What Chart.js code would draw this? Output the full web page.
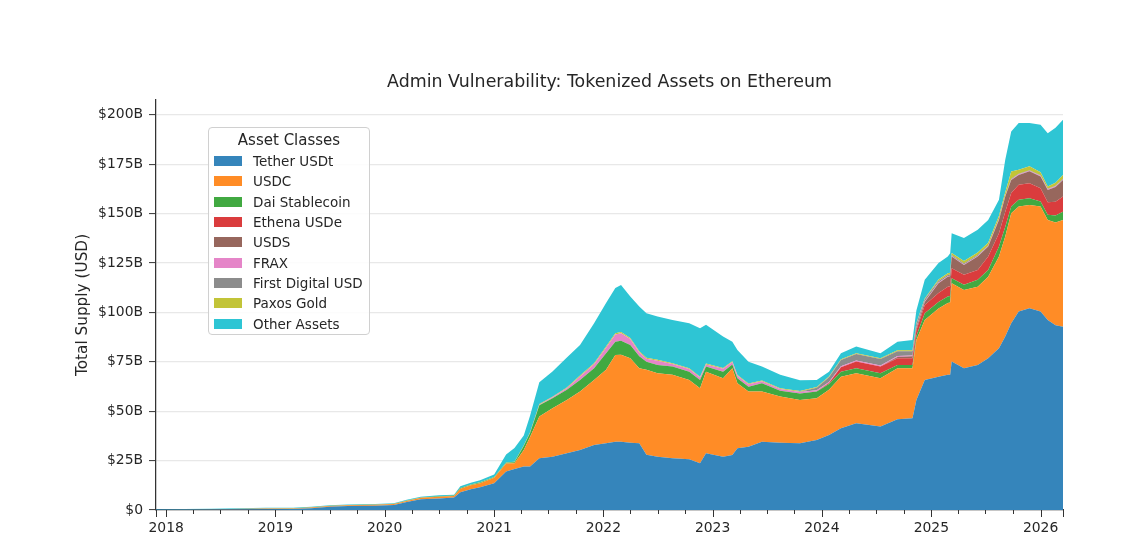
<!DOCTYPE html>
<html>
<head>
<meta charset="utf-8">
<title>Admin Vulnerability: Tokenized Assets on Ethereum</title>
<script src="https://cdn.jsdelivr.net/npm/chart.js@4.4.1/dist/chart.umd.min.js"></script>
<style>
  body { margin: 0; background: #fff; }
  #container { position: relative; width: 1132px; height: 555px; font-family: "DejaVu Sans", sans-serif; color: #262626; }
  #title { position: absolute; left: 156px; width: 907px; top: 71px; height: 20px; line-height: 20px; font-size: 17.4px; text-align: center; white-space: nowrap; }
  #legend { position: absolute; left: 208px; top: 127px; width: 162px; height: 208px; box-sizing: border-box;
    border: 1px solid #d0d0d0; border-radius: 4px; background: rgba(255,255,255,0.85); padding: 2px 0 0 5px; }
  #legend .title { height: 21px; line-height: 21px; font-size: 15px; text-align: center; margin-left: -5px; }
  #legend .row { display: flex; align-items: center; height: 20.3px; font-size: 13.5px; white-space: nowrap; }
  #legend .swatch { width: 28px; height: 10px; margin-right: 11px; flex: none; }
</style>
</head>
<body>
<div id="container">
  <canvas id="chart" width="1132" height="555"></canvas>
  <div id="title">Admin Vulnerability: Tokenized Assets on Ethereum</div>
  <div id="legend"></div>
</div>
<script>
// dates of the samples
const dates = [
  "2017-11-28","2018-06-01","2018-12-01","2019-03-01","2019-05-01","2019-07-01","2019-09-01","2019-12-01","2020-02-01","2020-03-15",
  "2020-05-01","2020-07-01","2020-08-20","2020-09-10","2020-10-15","2020-11-15","2021-01-01","2021-02-10","2021-03-10","2021-04-10",
  "2021-05-01","2021-06-01","2021-07-15","2021-09-01","2021-10-15","2021-12-01","2022-01-10","2022-02-10","2022-03-01","2022-04-01",
  "2022-05-01","2022-05-25","2022-07-01","2022-08-20","2022-10-15","2022-11-20","2022-12-10","2023-02-05","2023-03-08","2023-03-25",
  "2023-05-01","2023-06-15","2023-08-15","2023-10-20","2023-12-15","2024-01-25","2024-03-05","2024-04-25","2024-07-15","2024-09-10",
  "2024-10-30","2024-11-12","2024-12-10","2025-01-25","2025-02-25","2025-03-05","2025-03-10","2025-04-20","2025-06-05","2025-07-10",
  "2025-08-15","2025-09-05","2025-09-25","2025-10-20","2025-11-25","2026-01-01","2026-01-25","2026-02-20","2026-03-17"
];

// supply per asset, billions of USD
const tether = [
  0.2,0.3,0.4,0.5,0.9,1.7,2.0,2.2,2.5,4.0,
  5.5,5.8,6.3,9.0,10.5,11.5,13.5,19.5,20.7,22.0,
  22.0,26.2,27.0,28.7,30.4,32.9,33.8,34.6,34.6,34.0,
  33.8,28.0,27.0,26.2,25.7,23.6,28.7,27.0,27.8,31.2,
  32.0,34.6,34.0,33.8,35.4,38.0,41.4,43.9,42.2,45.9,
  46.4,55.7,65.8,67.5,68.4,68.5,75.1,71.7,73.4,76.8,
  81.9,87.8,94.5,100.4,102.1,100.4,96.2,93.5,92.8
];
const usdc = [
  0,0.05,0.3,0.3,0.35,0.35,0.4,0.45,0.5,0.6,
  0.7,0.9,0.8,1.8,2.0,2.1,2.8,4.0,3.0,8.4,
  15.0,21.1,24.5,27.0,29.6,32.9,37.2,43.9,44.0,42.8,
  38.0,43.0,42.2,42.2,40.1,38.0,41.3,39.7,43.9,32.9,
  28.0,25.4,23.4,21.9,21.1,22.8,26.1,25.3,24.5,25.8,
  25.3,30.3,30.4,34.5,36.3,36.5,39.7,39.7,39.6,41.2,
  46.4,50.6,55.7,53.2,52.3,53.2,50.6,52.0,54.0
];
const dai = [
  0.02,0.05,0.08,0.08,0.1,0.1,0.1,0.1,0.1,0.1,
  0.1,0.2,0.2,0.3,0.3,0.3,0.3,0.4,0.5,2.0,
  2.0,5.7,5.0,5.1,5.8,5.9,8.3,6.7,7.0,6.7,
  6.0,4.0,4.2,4.2,4.2,4.2,2.6,3.3,2.0,2.6,
  2.4,4.2,3.0,3.3,3.5,3.0,2.5,2.5,2.5,1.7,
  1.7,2.0,3.4,3.3,3.3,3.3,2.5,2.6,3.5,3.5,
  5.0,5.0,3.4,3.4,3.4,2.5,2.6,3.5,4.2
];
const usde = [
  0,0,0,0,0,0,0,0,0,0,
  0,0,0,0,0,0,0,0,0,0,
  0,0,0,0,0,0,0,0,0,0,
  0,0,0,0,0,0,0,0,0,0,
  0,0,0,0,0,0.5,2.2,3.4,3.4,3.4,
  3.4,3.0,4.2,4.5,5.0,5.0,5.1,5.0,5.0,6.8,
  6.8,7.6,6.8,7.6,7.6,6.8,6.3,7.0,7.6
];
const usds = [
  0,0,0,0,0,0,0,0,0,0,
  0,0,0,0,0,0,0,0,0,0,
  0,0,0,0,0,0,0,0,0,0,
  0,0,0,0,0,0,0,0,0,0,
  0,0,0,0,0,0,0,0,0,0.6,
  1.0,1.0,1.5,5.0,5.0,5.0,5.9,5.0,6.8,5.0,
  6.7,7.6,6.6,5.0,6.0,5.9,6.3,7.5,8.4
];
const frax = [
  0,0,0,0,0,0,0,0,0,0,
  0,0,0,0,0,0,0,0,0,0,
  0.1,0.3,0.5,0.8,1.8,2.1,2.8,3.6,3.8,3.0,
  2.0,1.5,2.1,1.3,1.3,1.2,1.1,1.5,1.2,1.2,
  1.2,1.0,0.8,0.7,0.6,0.5,0.5,0.5,0.5,0.5,
  0.4,0.3,0.3,0.3,0.3,0.3,0.3,0.3,0.3,0.3,
  0.3,0.3,0.3,0.3,0.3,0.3,0.3,0.3,0.3
];
const fdusd = [
  0,0,0,0,0,0,0,0,0,0,
  0,0,0,0,0,0,0,0,0,0,
  0,0,0,0,0,0,0,0,0,0,
  0,0,0,0,0,0,0,0,0,0,
  0,0,0,0.1,1.3,2.4,3.2,3.3,3.3,2.5,
  2.2,2.0,1.0,0.8,0.6,0.6,0.5,0.4,0.4,0.3,
  0.3,0.3,0.3,0.3,0.3,0.3,0.3,0.3,0.3
];
const paxg = [
  0,0,0,0,0,0,0.02,0.03,0.05,0.05,
  0.06,0.07,0.08,0.08,0.09,0.1,0.1,0.15,0.2,0.25,
  0.3,0.3,0.35,0.4,0.5,0.5,0.6,0.7,0.7,0.5,
  0.5,0.5,0.5,0.4,0.4,0.4,0.4,0.4,0.4,0.4,
  0.4,0.4,0.4,0.4,0.4,0.4,0.4,0.4,0.4,0.4,
  0.4,0.4,0.4,0.8,0.9,0.9,1.0,1.3,1.3,1.4,
  1.5,1.6,3.7,2.0,2.0,1.5,1.1,1.5,2.0
];
const other = [
  0.1,0.2,0.3,0.3,0.3,0.3,0.3,0.3,0.3,0.4,
  0.4,0.5,0.4,0.8,0.9,1.0,1.3,4.0,7.0,5.0,
  8.3,11.0,12.7,15.2,15.4,20.2,22.0,22.8,23.8,21.0,
  22.7,22.6,21.9,21.9,22.8,24.6,19.6,15.9,9.9,12.7,
  11.0,7.0,6.8,5.5,3.5,2.4,3.0,3.4,2.5,4.4,
  5.2,6.3,9.5,8.3,8.5,9.9,10.0,11.6,11.5,11.5,
  8.1,16.4,20.2,23.6,21.8,24.1,27.0,27.8,27.9
];

// series names and colours (tab10 at 0.9 alpha on white)
const seriesNames = ["Tether USDt","USDC","Dai Stablecoin","Ethena USDe","USDS","FRAX","First Digital USD","Paxos Gold","Other Assets"];
const seriesValues = [tether, usdc, dai, usde, usds, frax, fdusd, paxg, other];
const seriesColors = ["#3585bb","#ff8c26","#41a941","#da3c3d","#97675d","#e585c8","#8c8c8c","#c2c438","#2ec5d4"];

// axis values
const yTicks = [0,25,50,75,100,125,150,175,200];
const yMax = 207.5;
const xStart = "2017-11-28";
const xEnd = "2026-03-17";
const tickYears = [2018,2019,2020,2021,2022,2023,2024,2025,2026];

const toTime = (d) => Date.parse(d + "T00:00:00Z");
const textColor = "#262626";
const axisColor = "#333333";

// quarter ticks between the axis ends, plus the ends
const xMin = toTime(xStart), xMax = toTime(xEnd);
const xTickValues = [xMin];
tickYears.forEach((y) => {
  [0, 3, 6, 9].forEach((m) => {
    const t = Date.UTC(y, m, 1);
    if (t > xMin && t < xMax) xTickValues.push(t);
  });
});
xTickValues.push(xMax);
const isYearStart = (v) => { const d = new Date(v); return d.getUTCMonth() === 0 && d.getUTCDate() === 1; };

// datasets
const datasets = seriesNames.map((name, i) => ({
  label: name,
  data: dates.map((d, k) => ({ x: toTime(d), y: seriesValues[i][k] })),
  backgroundColor: seriesColors[i],
  borderColor: "transparent",
  borderWidth: 0,
  pointRadius: 0,
  tension: 0,
  fill: i === 0 ? "origin" : "-1",
}));

// x tick marks: long at years and ends, short at quarters
const xTickMarks = {
  id: "xTickMarks",
  afterDraw(chart) {
    const scale = chart.scales.x;
    const ctx = chart.ctx;
    const bottom = chart.chartArea.bottom;
    ctx.save();
    ctx.strokeStyle = axisColor;
    ctx.lineWidth = 1;
    scale.ticks.forEach((t) => {
      const px = Math.round(scale.getPixelForValue(t.value)) + 0.5;
      const long = isYearStart(t.value) || t.value === xMin || t.value === xMax;
      ctx.beginPath();
      ctx.moveTo(px, bottom);
      ctx.lineTo(px, bottom + (long ? 7 : 4));
      ctx.stroke();
    });
    ctx.restore();
  },
};

const canvas = document.getElementById("chart");
const chart = new Chart(canvas, {
  type: "line",
  data: { datasets },
  plugins: [xTickMarks],
  options: {
    responsive: false,
    animation: false,
    devicePixelRatio: 1,
    layout: { padding: { top: 100, right: 69, bottom: 0, left: 0 } },
    font: { family: "'DejaVu Sans', sans-serif" },
    plugins: {
      legend: { display: false },
      tooltip: { enabled: false },
      title: { display: false },
    },
    scales: {
      x: {
        type: "linear",
        min: xMin,
        max: xMax,
        afterFit: (scale) => { scale.height = 45; },
        afterBuildTicks: (scale) => { scale.ticks = xTickValues.map((v) => ({ value: v })); },
        grid: { display: true, drawOnChartArea: false, drawTicks: true, tickLength: 7, tickColor: "rgba(0,0,0,0)" },
        border: { display: true, color: axisColor, width: 1.25 },
        ticks: {
          autoSkip: false,
          maxRotation: 0,
          padding: 3,
          color: textColor,
          font: { family: "'DejaVu Sans', sans-serif", size: 13.9 },
          callback: (v) => (isYearStart(v) ? String(new Date(v).getUTCFullYear()) : ""),
        },
      },
      y: {
        stacked: true,
        min: 0,
        max: yMax,
        afterFit: (scale) => { scale.width = 156; },
        afterBuildTicks: (scale) => { scale.ticks = yTicks.map((v) => ({ value: v })); },
        grid: { color: "#e8e8e8", lineWidth: 1.2, tickColor: axisColor, tickLength: 7, tickWidth: 1 },
        border: { display: true, color: axisColor, width: 1.25 },
        ticks: {
          padding: 6,
          color: textColor,
          font: { family: "'DejaVu Sans', sans-serif", size: 13.9 },
          callback: (v) => (v === 0 ? "$0" : "$" + v + "B"),
        },
        title: {
          display: true,
          text: "Total Supply (USD)",
          color: textColor,
          font: { family: "'DejaVu Sans', sans-serif", size: 15.3 },
          padding: { top: 74, bottom: 0 },
        },
      },
    },
  },
});

// legend box
const legend = document.getElementById("legend");
const legendTitle = document.createElement("div");
legendTitle.className = "title";
legendTitle.textContent = "Asset Classes";
legend.append(legendTitle);
seriesNames.forEach((name, i) => {
  const row = document.createElement("div");
  row.className = "row";
  const swatch = document.createElement("span");
  swatch.className = "swatch";
  swatch.style.background = seriesColors[i];
  const label = document.createElement("span");
  label.textContent = name;
  row.append(swatch, label);
  legend.append(row);
});
</script>
</body>
</html>
